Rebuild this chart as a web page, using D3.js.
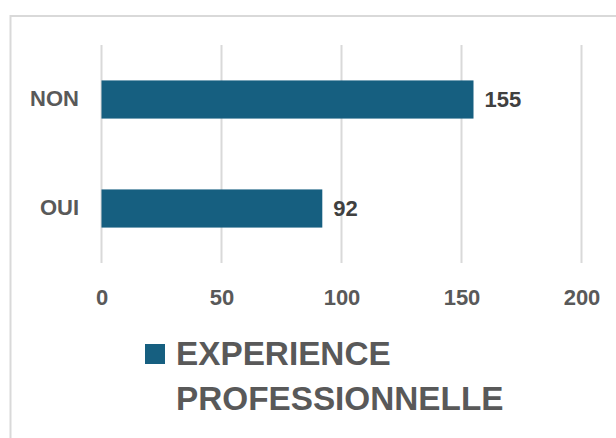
<!DOCTYPE html>
<html><head><meta charset="utf-8">
<script src="https://cdn.jsdelivr.net/npm/d3@7"></script>
<style>body{margin:0;background:#fff}svg{display:block}</style>
</head><body>
<svg id="c" width="616" height="438"></svg>
<script>
const categories = ["NON", "OUI"];
const values = [155, 92];
const ticks = [0, 50, 100, 150, 200];
const seriesName = ["EXPERIENCE", "PROFESSIONNELLE"];

const svg = d3.select("#c");
const font = "'Liberation Sans', Arial, sans-serif";
// frame
svg.append("path").attr("d", "M10.5,438 V16 H616").attr("fill", "none")
  .attr("stroke", "#d9d9d9").attr("stroke-width", 2);

const x = d3.scaleLinear().domain([0, 200]).range([101.5, 581.5]);
const y = d3.scaleBand().domain(categories).range([45, 263]).paddingInner(0.65).paddingOuter(0.325);

const g = svg.append("g");
g.selectAll("line.grid").data(ticks).join("line").attr("class", "grid")
  .attr("x1", d => x(d)).attr("x2", d => x(d)).attr("y1", 45).attr("y2", 263)
  .attr("stroke", "#d9d9d9").attr("stroke-width", 2);

const xAxis = d3.axisBottom(x).tickValues(ticks).tickSize(0).tickPadding(0);
const ax = g.append("g").attr("transform", "translate(0,305)").call(xAxis);
ax.select(".domain").remove();
ax.selectAll("text").attr("font-family", font).attr("font-weight", "bold")
  .attr("font-size", 22).attr("fill", "#595959").attr("dy", 0);

const yAxis = d3.axisLeft(y).tickSize(0).tickPadding(0);
const ay = g.append("g").attr("transform", "translate(79,0)").call(yAxis);
ay.select(".domain").remove();
ay.selectAll("text").attr("font-family", font).attr("font-weight", "bold")
  .attr("font-size", 22).attr("fill", "#595959").attr("dy", "0.3em");

g.selectAll("rect.bar").data(values).join("rect").attr("class", "bar")
  .attr("x", x(0)).attr("y", (d, i) => y(categories[i]))
  .attr("width", d => x(d) - x(0)).attr("height", y.bandwidth())
  .attr("fill", "#165f80");

g.selectAll("text.val").data(values).join("text").attr("class", "val")
  .attr("x", d => x(d) + 11).attr("y", (d, i) => y(categories[i]) + y.bandwidth() / 2)
  .attr("dy", "0.35em").attr("font-family", font).attr("font-weight", "bold")
  .attr("font-size", 22).attr("fill", "#404040").text(d => d);

// legend
svg.append("rect").attr("x", 145).attr("y", 344).attr("width", 20).attr("height", 20).attr("fill", "#165f80");
svg.selectAll("text.leg").data(seriesName).join("text").attr("class", "leg")
  .attr("x", 176).attr("y", (d, i) => 365 + i * 45)
  .attr("font-family", font).attr("font-weight", "bold").attr("font-size", 33.3)
  .attr("fill", "#595959").text(d => d);
</script>
</body></html>
